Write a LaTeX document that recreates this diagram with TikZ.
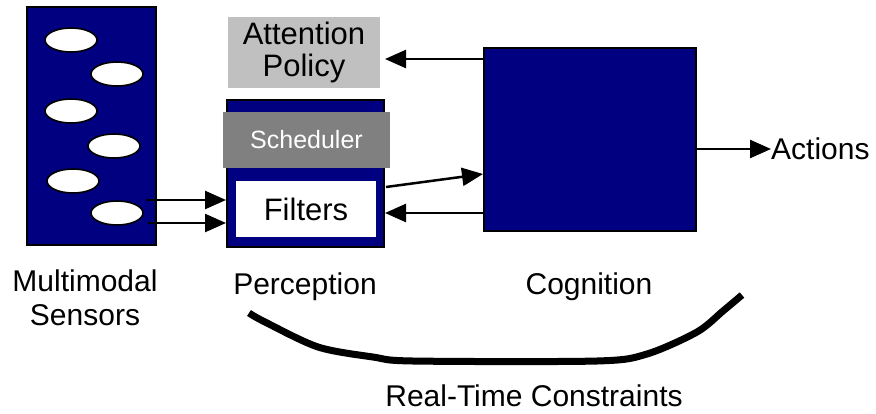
\documentclass[tikz,border=0pt]{standalone}
\usepackage{fontspec}
\setmainfont{Liberation Sans}
\usetikzlibrary{arrows.meta,shapes.geometric,calc}
\definecolor{navy}{HTML}{000080}
\definecolor{lgray}{HTML}{C0C0C0}
\definecolor{mgray}{HTML}{808080}
\begin{document}
\begin{tikzpicture}[x=1pt,y=-1pt,
  box/.style={rectangle,inner sep=0pt,fill=navy,draw=black,line width=2pt},
  sensor/.style={ellipse,inner sep=0pt,minimum width=52pt,minimum height=24pt,fill=white,draw=black,line width=1.6pt},
  lbl/.style={inner sep=0pt,font=\fontsize{30}{34}\selectfont,align=center},
  arr/.style={line width=2.5pt,-{Triangle[length=21pt,width=18pt]}}]
\useasboundingbox (0,0) rectangle (876,413);
% sensors
\node[box,minimum width=129pt,minimum height=238pt] (sens) at (91.5,126) {};
\node[sensor] (e1) at (71,40) {};
\node[sensor] (e2) at (117,74) {};
\node[sensor] (e3) at (71,111) {};
\node[sensor] (e4) at (114,146) {};
\node[sensor] (e5) at (73,181) {};
\node[sensor] (e6) at (117,213) {};
% attention policy
\node[inner sep=0pt,fill=lgray,minimum width=152pt,minimum height=71pt,font=\fontsize{31}{32}\selectfont,align=center] (att) at (304,52.5) {Attention\\Policy};
% perception
\node[box,minimum width=157pt,minimum height=147pt] (perc) at (305.5,173.5) {};
\node[inner sep=0pt,fill=mgray,minimum width=167pt,minimum height=56pt,text=white,font=\fontsize{25}{28}\selectfont] (sched) at (306.5,140) {Scheduler};
\node[inner sep=0pt,fill=white,minimum width=140pt,minimum height=56pt,font=\fontsize{31}{34}\selectfont] (filt) at (306,209) {Filters};
% cognition
\node[box,minimum width=212pt,minimum height=183pt] (cog) at (590,139.5) {};
% labels
\node[lbl,anchor=base] (lsens) at (85,325) {Multimodal\\Sensors};
\node[lbl,anchor=base] (lperc) at (305,294) {Perception};
\node[lbl,anchor=base] (lcog) at (589,294) {Cognition};
\node[lbl,anchor=west] (act) at (771,149) {Actions};
\node[lbl,anchor=base] (rtc) at (534,406) {Real-Time Constraints};
% arrows
\coordinate (s1) at (146,200);
\coordinate (s2) at (148,223);
\draw[arr] (s1) -- (s1 -| perc.west);
\draw[arr] (s2) -- (s2 -| perc.west);
\coordinate (ca) at (484,59);
\coordinate (ta) at (385,59);
\draw[arr] (ca) -- (ta);
\coordinate (fo) at (386,187);
\coordinate (ci) at (483,174);
\draw[arr] (fo) -- (ci);
\coordinate (cf) at (484,213);
\draw[arr] (cf) -- (cf -| perc.east);
\draw[arr] (cog.east |- act.west) -- (act.west);
% real-time constraint curve
\draw[line width=7pt,line cap=butt,line join=round] plot[smooth,tension=0.5] coordinates {(249,313) (265,322) (318,347) (373,357) (413,361) (597,361) (647,354) (697,332) (723,311) (742,295)};
\end{tikzpicture}
\end{document}
